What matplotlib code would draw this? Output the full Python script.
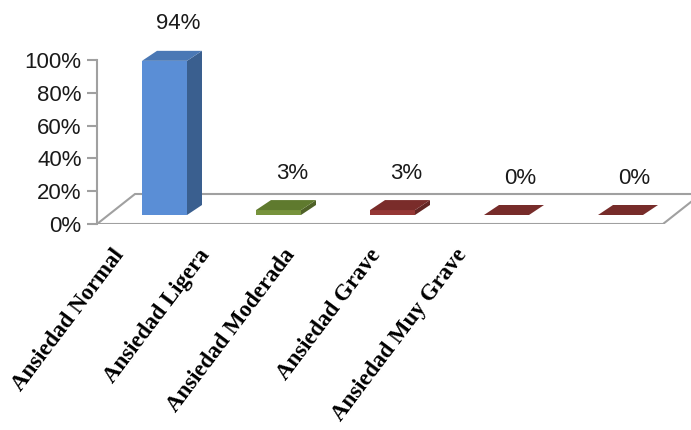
import matplotlib
matplotlib.use("Agg")
import matplotlib.pyplot as plt
from matplotlib.patches import Polygon

# datos
categorias = ["Ansiedad Normal", "Ansiedad Ligera", "Ansiedad Moderada",
              "Ansiedad Grave", "Ansiedad Muy Grave"]
valores = [94, 3, 3, 0, 0]
etiquetas = ["94%", "3%", "3%", "0%", "0%"]
ticks_y = [0, 20, 40, 60, 80, 100]

# colores (frente, arriba, lado)
colores = [
    ("#5a8ed6", "#4a78b5", "#3a5f8f"),
    ("#77933c", "#5f7a2e", "#4f6228"),
    ("#953735", "#7a2c2a", "#632523"),
    ("#953735", "#772c2a", "#632523"),
    ("#953735", "#772c2a", "#632523"),
]

W, H = 691, 430
fig = plt.figure(figsize=(W / 100, H / 100), dpi=100)

# ejes: 0% en y=224px, 100% en y=60px, eje en x=97px
px_cat = 114.0            # px por categoria
x_left = (97 - 164.5) / px_cat
x_right = x_left + (W - 97) / px_cat
ax = fig.add_axes([97 / W, (H - 224) / H, (W - 97) / W, 164 / H])
ax.set_xlim(x_left, x_right)
ax.set_ylim(0, 100)

XPX = 1 / px_cat          # unidades de datos por px
YPX = 100 / 164

gris = "#a0a0a0"
for s in ["top", "right", "bottom"]:
    ax.spines[s].set_visible(False)
ax.spines["left"].set_color(gris)
ax.spines["left"].set_linewidth(1.5)
ax.set_xticks([])
ax.set_yticks(ticks_y)
ax.set_yticklabels([f"{t}%" for t in ticks_y], fontsize=16,
                   family="Liberation Sans", color="#1a1a1a")
ax.tick_params(axis="y", length=7, width=1.5, color=gris, pad=4)

# piso
fdx, fdy = 38 * XPX, 30 * YPX
x_fr = (663 - 164.5) / px_cat
piso = Polygon([(x_left, 0), (x_fr, 0), (x_fr + fdx, fdy), (x_left + fdx, fdy)],
               closed=True, facecolor="white", edgecolor=gris, lw=1.5,
               clip_on=True, zorder=1)
ax.add_patch(piso)

# barras 3D
w = 22.5 * XPX
dx, dy = 15 * XPX, 10 * YPX
base = 9 * YPX
for i, (v, (cf, ct, cs)) in enumerate(zip(valores, colores)):
    x0, x1 = i - w, i + w
    y0, y1 = base, base + v
    if v > 0:
        ax.add_patch(Polygon([(x0, y0), (x1, y0), (x1, y1), (x0, y1)],
                             facecolor=cf, edgecolor="none", zorder=3, clip_on=False))
        ax.add_patch(Polygon([(x1, y0), (x1 + dx, y0 + dy), (x1 + dx, y1 + dy), (x1, y1)],
                             facecolor=cs, edgecolor="none", zorder=3, clip_on=False))
    ax.add_patch(Polygon([(x0, y1), (x1, y1), (x1 + dx, y1 + dy), (x0 + dx, y1 + dy)],
                         facecolor=ct, edgecolor="none", zorder=3, clip_on=False))
    ax.text(i + 0.12, v + 28, etiquetas[i], ha="center", va="center",
            fontsize=16, family="Liberation Sans", color="#1a1a1a", clip_on=False)

# etiquetas de categorias
for i, c in enumerate(categorias):
    ax.text(i * 0.75 - 0.46, -13, c, ha="right", va="top", rotation=53,
            rotation_mode="anchor", fontsize=16.5, fontweight="bold",
            family="Liberation Serif", color="black", clip_on=False)

fig.savefig("out.png", dpi=100)
